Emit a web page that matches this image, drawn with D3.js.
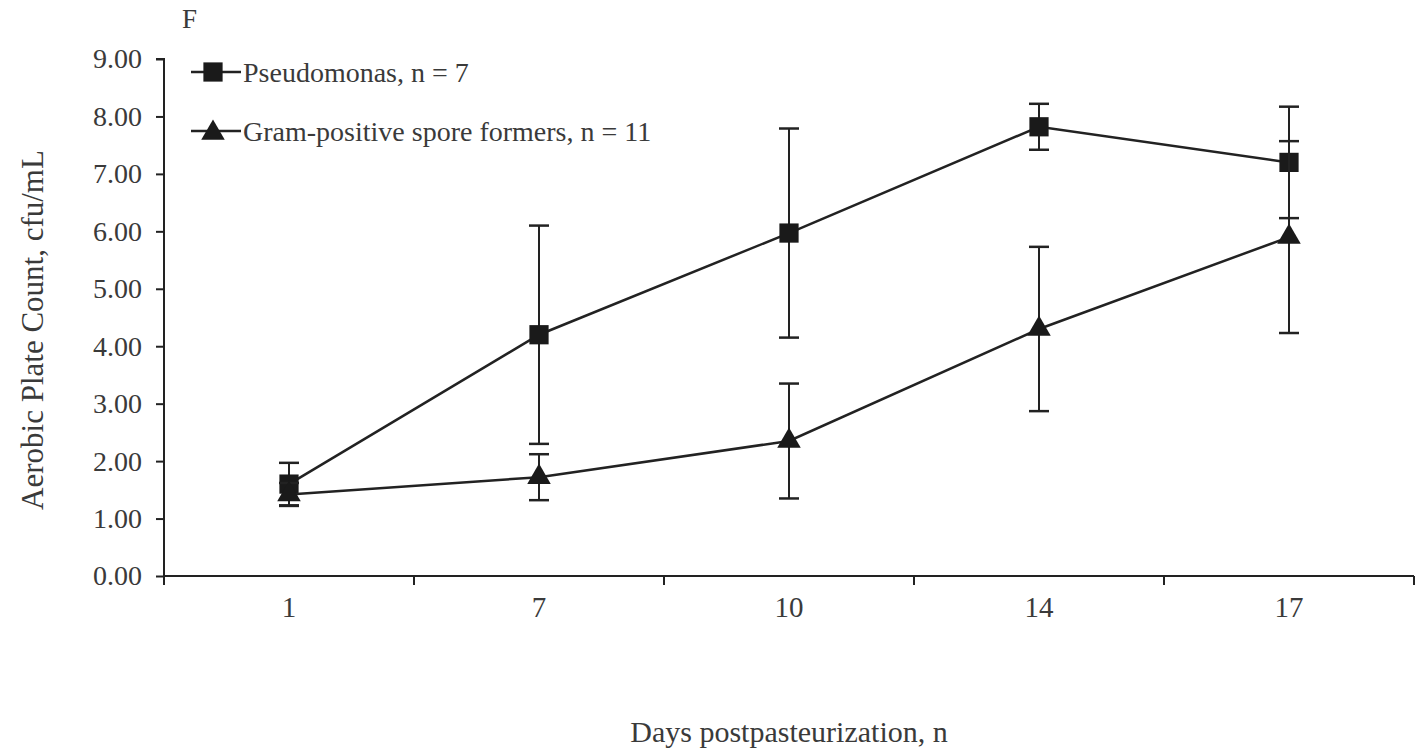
<!DOCTYPE html>
<html><head><meta charset="utf-8">
<script src="https://cdn.jsdelivr.net/npm/d3@7"></script>
<style>body{margin:0;background:#fff}svg{display:block}</style>
</head><body><svg id="c" width="1427" height="748"></svg>
<script>
const days = ["1","7","10","14","17"];
const pseudoMean = [1.60, 4.20, 5.97, 7.82, 7.20];
const pseudoErr  = [0.37, 1.90, 1.82, 0.40, 0.97];
const gramMean   = [1.42, 1.72, 2.35, 4.30, 5.90];
const gramErr    = [0.20, 0.40, 1.00, 1.43, 1.67];
const yTicks = [0,1,2,3,4,5,6,7,8,9];
const seriesNames = ["Pseudomonas, n = 7", "Gram-positive spore formers, n = 11"];

(function(){
const svg = d3.select("#c");
const font = "'Liberation Serif', 'Times New Roman', serif";
const ink = "#222";
const txt = "#3a3a3a";
const pL = 164, pR = 1414, pT = 59, pB = 576;

const x = d3.scaleBand().domain(days).range([pL, pR]);
const y = d3.scaleLinear().domain([0, 9]).range([pB, pT]);

// y axis
const ya = svg.append("g").attr("transform", `translate(${pL},0)`)
  .call(d3.axisLeft(y).tickValues(yTicks).tickFormat(d3.format(".2f")).tickSize(8).tickPadding(14));
ya.select(".domain").attr("stroke", ink).attr("stroke-width", 2).attr("d", `M-8,${pT}H0V${pB}`);
ya.selectAll(".tick line").attr("stroke", ink).attr("stroke-width", 2);
ya.selectAll("text").attr("font-family", font).attr("font-size", 28).attr("fill", txt);

// x axis
const xa = svg.append("g").attr("transform", `translate(0,${pB})`)
  .call(d3.axisBottom(x).tickSize(0).tickPadding(20));
xa.select(".domain").attr("stroke", ink).attr("stroke-width", 2).attr("d", `M${pL},0H${pR}`);
xa.selectAll("text").attr("font-family", font).attr("font-size", 29).attr("fill", txt);
const bounds = days.map(d => x(d)).concat([pR]);
svg.append("g").selectAll("line").data(bounds).join("line")
  .attr("x1", d => d).attr("x2", d => d).attr("y1", pB).attr("y2", pB + 9)
  .attr("stroke", ink).attr("stroke-width", 2);

const cx = d => x(d) + x.bandwidth() / 2;

function drawSeries(means, errs, symbol, size) {
  const g = svg.append("g");
  const pts = days.map((d, i) => ({d, m: means[i], e: errs[i]}));
  pts.forEach(p => {
    const xx = cx(p.d);
    g.append("line").attr("x1", xx).attr("x2", xx).attr("y1", y(p.m + p.e)).attr("y2", y(p.m - p.e))
      .attr("stroke", ink).attr("stroke-width", 2);
    [p.m + p.e, p.m - p.e].forEach(v => {
      g.append("line").attr("x1", xx - 10).attr("x2", xx + 10).attr("y1", y(v)).attr("y2", y(v))
        .attr("stroke", ink).attr("stroke-width", 2.5);
    });
  });
  g.append("path").datum(pts)
    .attr("d", d3.line().x(p => cx(p.d)).y(p => y(p.m)))
    .attr("fill", "none").attr("stroke", ink).attr("stroke-width", 2.5);
  g.selectAll(".m").data(pts).join("path")
    .attr("transform", p => `translate(${cx(p.d)},${y(p.m)})`)
    .attr("d", d3.symbol().type(symbol).size(size))
    .attr("fill", "#1a1a1a");
}
drawSeries(pseudoMean, pseudoErr, d3.symbolSquare, 370);
drawSeries(gramMean, gramErr, d3.symbolTriangle, 240);

// legend
const leg = svg.append("g");
[[d3.symbolSquare, 370, 72], [d3.symbolTriangle, 240, 131]].forEach((s, i) => {
  const ly = s[2];
  leg.append("line").attr("x1", 191).attr("x2", 241).attr("y1", ly).attr("y2", ly)
    .attr("stroke", ink).attr("stroke-width", 2.5);
  leg.append("path").attr("transform", `translate(213,${ly + (i ? 2 : 0)})`)
    .attr("d", d3.symbol().type(s[0]).size(s[1])).attr("fill", "#1a1a1a");
  leg.append("text").attr("x", 243).attr("y", ly + 10).text(seriesNames[i])
    .attr("font-family", font).attr("font-size", 28).attr("fill", txt);
});

svg.append("text").attr("x", 182).attr("y", 28).text("F")
  .attr("font-family", font).attr("font-size", 27).attr("fill", txt);
svg.append("text").attr("transform", "translate(43,330) rotate(-90)").attr("text-anchor", "middle")
  .text("Aerobic Plate Count, cfu/mL").attr("font-family", font).attr("font-size", 31).attr("fill", txt);
svg.append("text").attr("x", 789).attr("y", 742).attr("text-anchor", "middle")
  .text("Days postpasteurization, n").attr("font-family", font).attr("font-size", 30).attr("fill", txt);
})();
</script></body></html>
